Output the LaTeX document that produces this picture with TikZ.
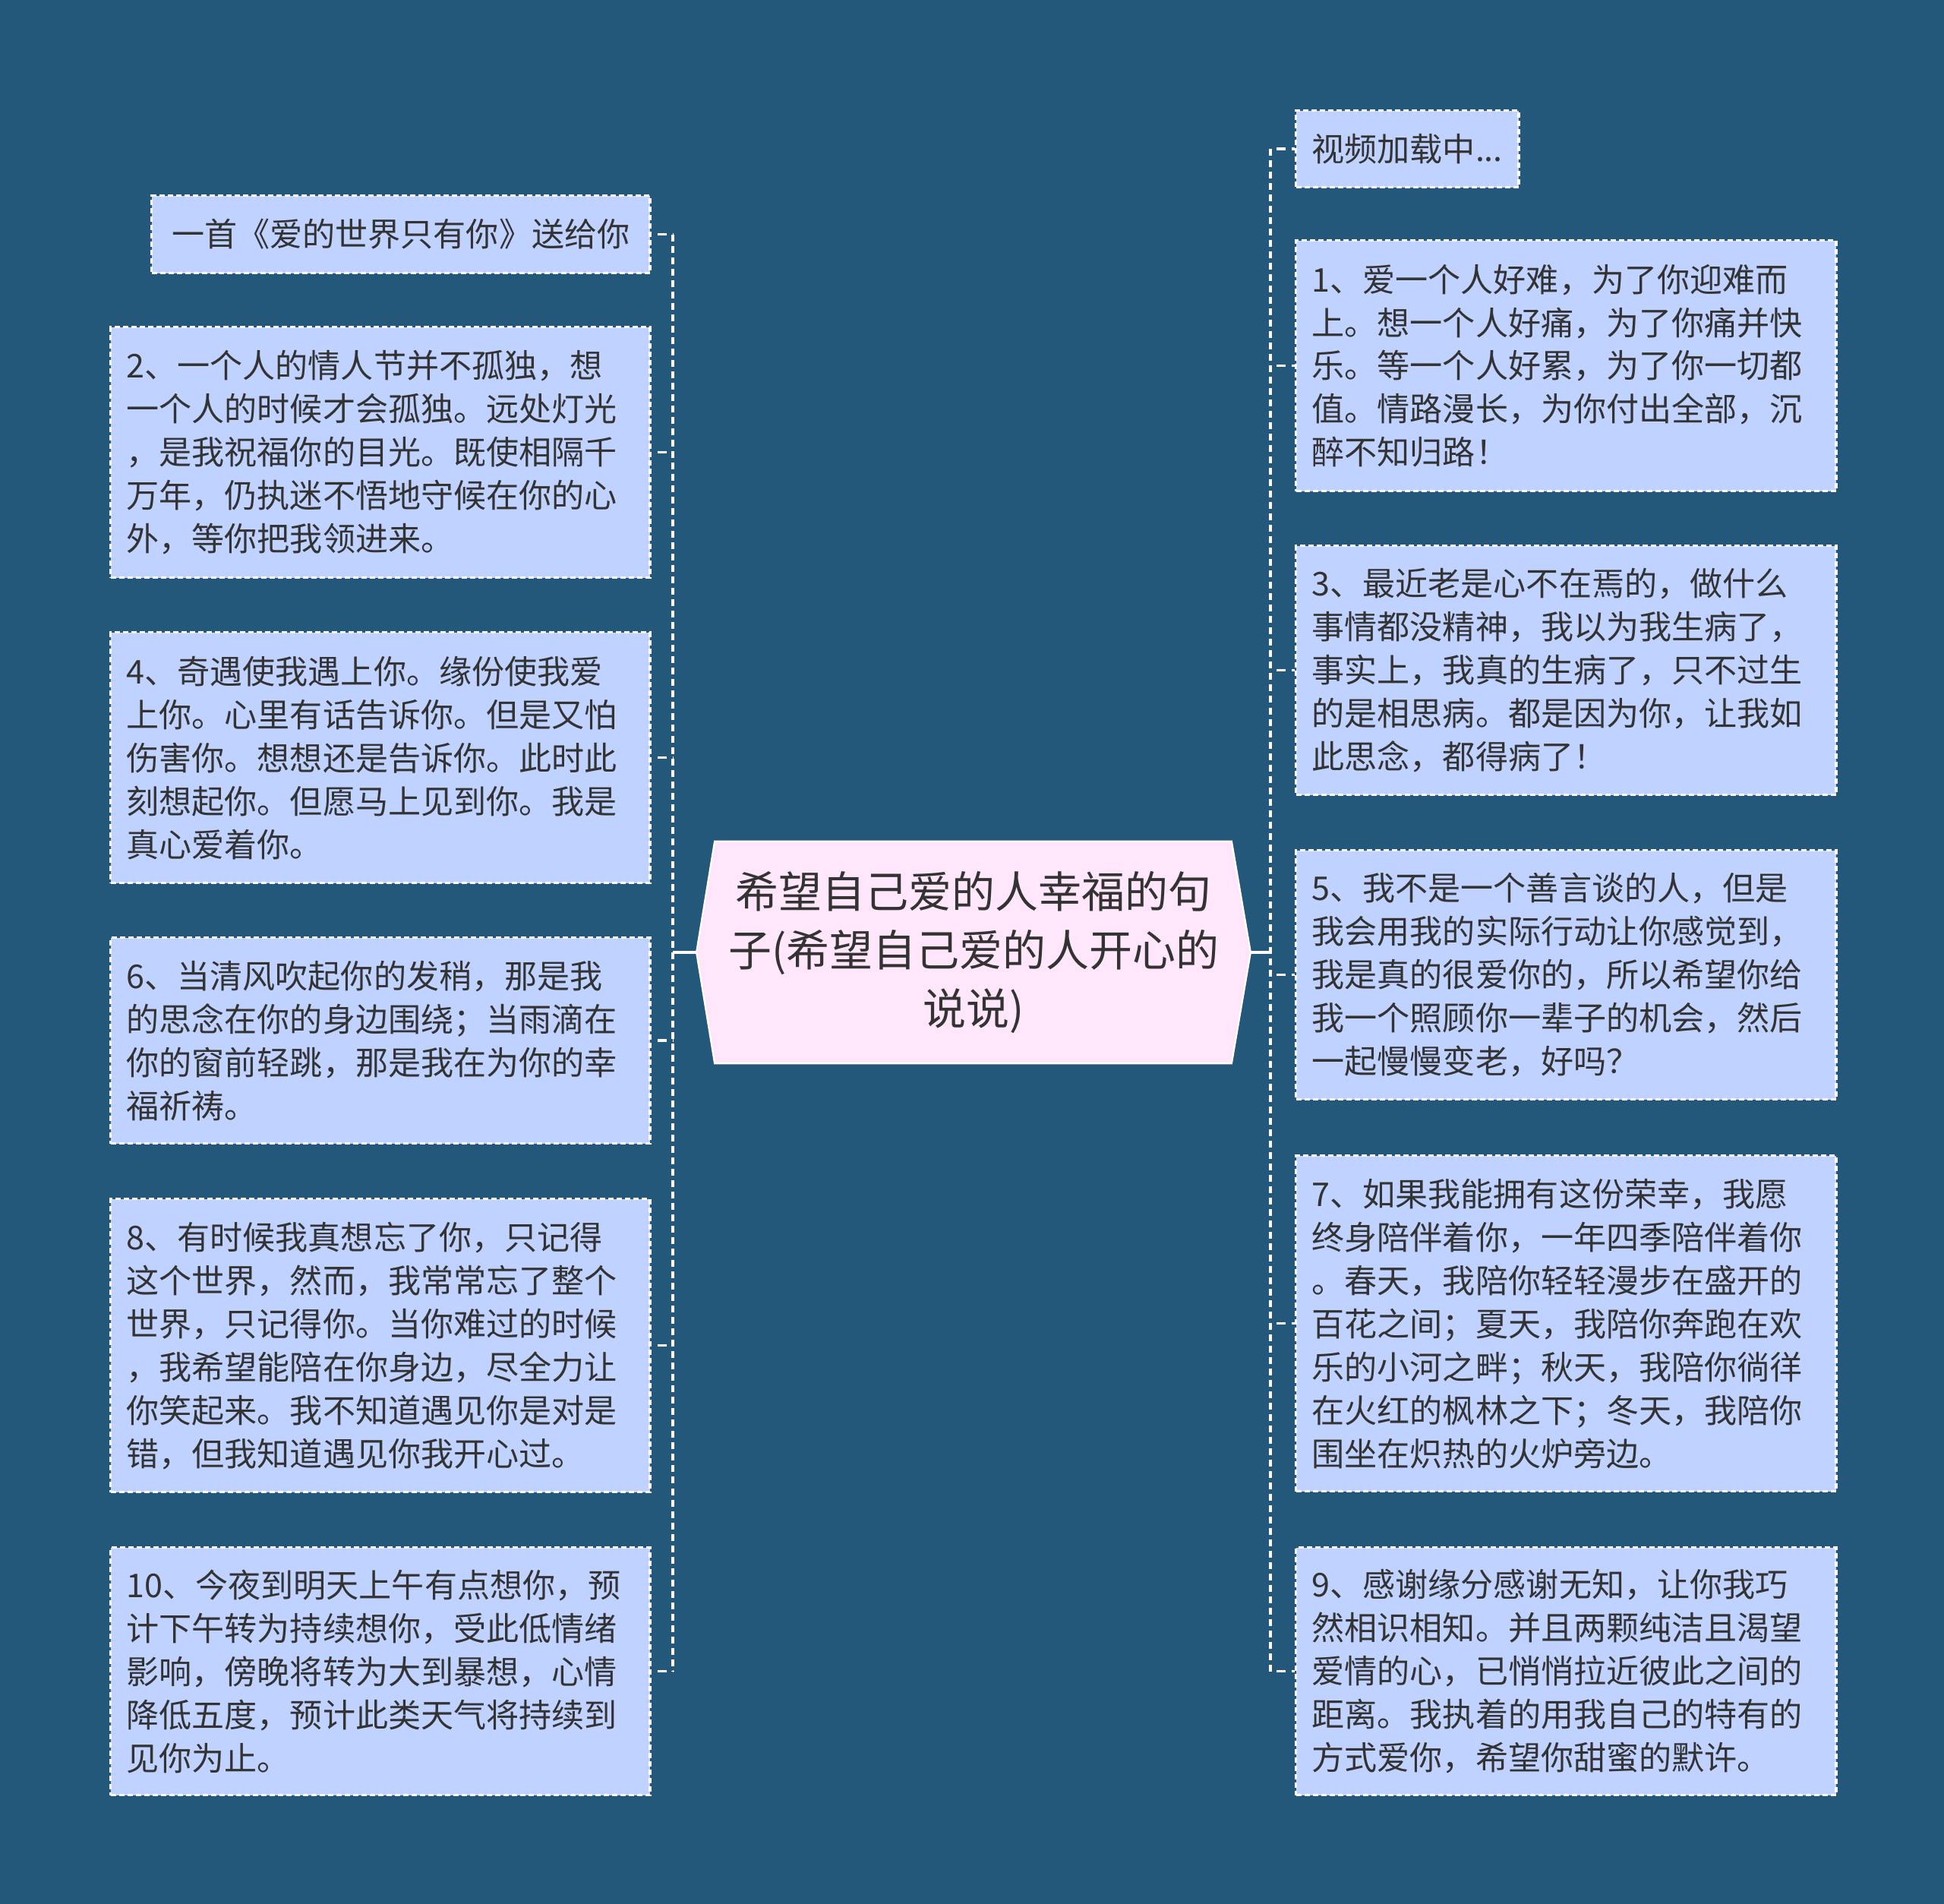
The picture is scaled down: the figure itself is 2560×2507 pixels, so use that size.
\documentclass[tikz,border=0pt]{standalone}
\usepackage{fontspec}
\setmainfont{Noto Sans CJK SC}
\usetikzlibrary{calc}
\definecolor{bgc}{RGB}{36,88,123}
\definecolor{boxc}{RGB}{192,210,255}
\definecolor{centc}{RGB}{255,230,251}
\definecolor{txtc}{RGB}{51,51,51}
\pgfdeclarelayer{bg}
\pgfsetlayers{bg,main}
\tikzset{
  leaf/.style={draw=white, line width=0.9pt, dash pattern=on 0.07cm off 0.04cm,
    fill=boxc, text=txtc, anchor=north west, inner xsep=0.21cm, inner ysep=0pt,
    font=\fontsize{12.25pt}{16.2pt}\selectfont},
  leafl/.style={leaf, align=left},
  leafc/.style={leaf, align=center},
  centernode/.style={text=txtc, align=center, inner sep=0pt,
    font=\fontsize{16.2pt}{22pt}\selectfont},
  spine/.style={draw=white, line width=1.4pt, dash pattern=on 0.09cm off 0.06cm},
  tick/.style={draw=white, line width=1pt, dash pattern=on 0.12cm off 0.08cm, dash phase=0.12cm},
  solidc/.style={draw=white, line width=1.1pt}
}
\begin{document}
\begin{tikzpicture}[x=0.01cm, y=-0.01cm]
\begin{pgfonlayer}{bg}
\fill[bgc] (0,0) rectangle (2560,2507);
\end{pgfonlayer}
\useasboundingbox (0,0) rectangle (2560,2507);

% central node
\node[centernode, minimum width=7.28cm, minimum height=2.91cm] (c) at (1282,1254)
  {希望自己爱的人幸福的句\\子(希望自己爱的人开心的\\说说)};
\begin{pgfonlayer}{bg}
\filldraw[fill=centc, draw=white, line width=0.6pt]
  ($(c.north west)+(24,0)$) -- (c.west) -- ($(c.south west)+(24,0)$) --
  ($(c.south east)+(-25,0)$) -- (c.east) -- ($(c.north east)+(-25,0)$) -- cycle;
\end{pgfonlayer}

% left nodes
\node[leafc, minimum width=6.56cm, minimum height=1.02cm] (L1) at (198,256)
  {一首《爱的世界只有你》送给你};
\node[leafl, text width=6.68cm, minimum width=7.10cm, minimum height=3.30cm] (L2) at (144,429)
  {2、一个人的情人节并不孤独，想\\一个人的时候才会孤独。远处灯光\\，是我祝福你的目光。既使相隔千\\万年，仍执迷不悟地守候在你的心\\外，等你把我领进来。};
\node[leafl, text width=6.68cm, minimum width=7.10cm, minimum height=3.30cm] (L4) at (144,831)
  {4、奇遇使我遇上你。缘份使我爱\\上你。心里有话告诉你。但是又怕\\伤害你。想想还是告诉你。此时此\\刻想起你。但愿马上见到你。我是\\真心爱着你。};
\node[leafl, text width=6.68cm, minimum width=7.10cm, minimum height=2.71cm] (L6) at (144,1233)
  {6、当清风吹起你的发稍，那是我\\的思念在你的身边围绕；当雨滴在\\你的窗前轻跳，那是我在为你的幸\\福祈祷。};
\node[leafl, text width=6.68cm, minimum width=7.10cm, minimum height=3.86cm] (L8) at (144,1577)
  {8、有时候我真想忘了你，只记得\\这个世界，然而，我常常忘了整个\\世界，只记得你。当你难过的时候\\，我希望能陪在你身边，尽全力让\\你笑起来。我不知道遇见你是对是\\错，但我知道遇见你我开心过。};
\node[leafl, text width=6.68cm, minimum width=7.10cm, minimum height=3.26cm] (L10) at (144,2036)
  {10、今夜到明天上午有点想你，预\\计下午转为持续想你，受此低情绪\\影响，傍晚将转为大到暴想，心情\\降低五度，预计此类天气将持续到\\见你为止。};

% right nodes
\node[leafc, minimum width=2.89cm, minimum height=1.01cm] (R0) at (1705,144)
  {视频加载中...};
\node[leafl, text width=6.69cm, minimum width=7.11cm, minimum height=3.30cm] (R1) at (1705,315)
  {1、爱一个人好难，为了你迎难而\\上。想一个人好痛，为了你痛并快\\乐。等一个人好累，为了你一切都\\值。情路漫长，为你付出全部，沉\\醉不知归路！};
\node[leafl, text width=6.69cm, minimum width=7.11cm, minimum height=3.28cm] (R3) at (1705,717)
  {3、最近老是心不在焉的，做什么\\事情都没精神，我以为我生病了，\\事实上，我真的生病了，只不过生\\的是相思病。都是因为你，让我如\\此思念，都得病了！};
\node[leafl, text width=6.69cm, minimum width=7.11cm, minimum height=3.28cm] (R5) at (1705,1118)
  {5、我不是一个善言谈的人，但是\\我会用我的实际行动让你感觉到，\\我是真的很爱你的，所以希望你给\\我一个照顾你一辈子的机会，然后\\一起慢慢变老，好吗？};
\node[leafl, text width=6.69cm, minimum width=7.11cm, minimum height=4.42cm] (R7) at (1705,1520)
  {7、如果我能拥有这份荣幸，我愿\\终身陪伴着你，一年四季陪伴着你\\。春天，我陪你轻轻漫步在盛开的\\百花之间；夏天，我陪你奔跑在欢\\乐的小河之畔；秋天，我陪你徜徉\\在火红的枫林之下；冬天，我陪你\\围坐在炽热的火炉旁边。};
\node[leafl, text width=6.69cm, minimum width=7.11cm, minimum height=3.26cm] (R9) at (1705,2036)
  {9、感谢缘分感谢无知，让你我巧\\然相识相知。并且两颗纯洁且渴望\\爱情的心，已悄悄拉近彼此之间的\\距离。我执着的用我自己的特有的\\方式爱你，希望你甜蜜的默许。};

% connectors
\coordinate (ls) at (886,1254);
\coordinate (rs) at (1673,1254);
\draw[solidc] (c.west) -- (ls);
\draw[solidc] (c.east) -- (rs);
\draw[spine] (ls |- L1.east) -- (ls |- L10.east);
\draw[spine] (rs |- R0.west) -- (rs |- R9.west);
\foreach \n in {L1,L2,L4,L6,L8,L10}
  \draw[tick] (\n.east) -- (\n.east -| ls);
\foreach \n in {R0,R1,R3,R5,R7,R9}
  \draw[tick] (\n.west -| rs) -- (\n.west);
\end{tikzpicture}
\end{document}
